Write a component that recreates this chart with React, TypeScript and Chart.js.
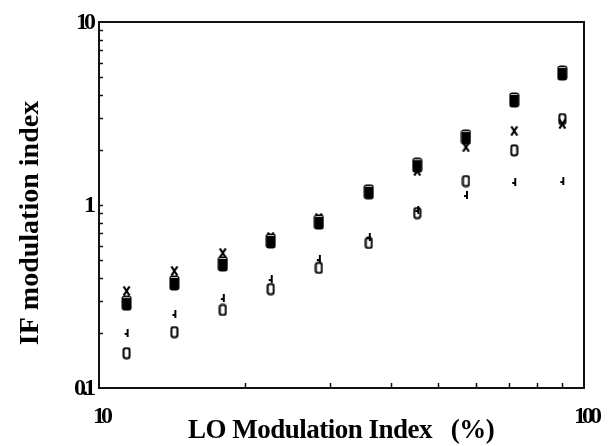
import React, { useEffect, useRef } from "react";
import { Chart, registerables } from "chart.js";

Chart.register(...registerables);

// LO modulation index (%)
const loIndex = [11.4, 14.3, 18.0, 22.6, 28.4, 36.0, 45.3, 57.1, 71.8, 90.2];
// IF modulation index, four measured series
const seriesFilled = [0.291, 0.375, 0.476, 0.636, 0.807, 1.18, 1.65, 2.35, 3.75, 5.26];
const seriesCross = [0.339, 0.436, 0.547, 0.668, 0.849, 1.21, 1.535, 2.07, 2.54, 2.77];
const seriesOpen = [0.155, 0.202, 0.267, 0.347, 0.453, 0.62, 0.904, 1.352, 1.99, 2.95];
const seriesTick = [0.2, 0.254, 0.31, 0.394, 0.507, 0.668, 0.939, 1.134, 1.336, 1.352];

const yTickLabels = [
  { v: 10, t: "10" },
  { v: 1, t: "1" },
  { v: 0.1, t: "0.1" },
];
const xTickLabels = [
  { v: 10, t: "10" },
  { v: 100, t: "100" },
];
const xMinor = [20, 30, 40, 50, 60, 70, 80, 90];
const yMinor = [0.2, 0.3, 0.4, 0.5, 0.6, 0.7, 0.8, 0.9, 1, 2, 3, 4, 5, 6, 7, 8, 9];

const xTitle = "LO Modulation Index   (%)";
const yTitle = "IF modulation index";

function makeCanvas(w: number, h: number, draw: (c: CanvasRenderingContext2D) => void) {
  const cv = document.createElement("canvas");
  cv.width = w;
  cv.height = h;
  const c = cv.getContext("2d")!;
  draw(c);
  return cv;
}

function roundRect(c: CanvasRenderingContext2D, x: number, y: number, w: number, h: number, r: number) {
  c.beginPath();
  c.moveTo(x + r, y);
  c.lineTo(x + w - r, y);
  c.quadraticCurveTo(x + w, y, x + w, y + r);
  c.lineTo(x + w, y + h - r);
  c.quadraticCurveTo(x + w, y + h, x + w - r, y + h);
  c.lineTo(x + r, y + h);
  c.quadraticCurveTo(x, y + h, x, y + h - r);
  c.lineTo(x, y + r);
  c.quadraticCurveTo(x, y, x + r, y);
  c.closePath();
}

const filledMarker = makeCanvas(11, 16, (c) => {
  c.fillStyle = "#000";
  roundRect(c, 0.5, 0.5, 10, 15, 3);
  c.fill();
  c.fillStyle = "rgba(255,255,255,0.75)";
  c.fillRect(2, 2, 7, 1);
});

const openMarker = makeCanvas(9, 13, (c) => {
  c.strokeStyle = "#000";
  c.lineWidth = 2;
  roundRect(c, 1.5, 1.5, 6, 10, 2);
  c.stroke();
});

const crossMarker = makeCanvas(9, 10, (c) => {
  c.strokeStyle = "#000";
  c.lineWidth = 2.2;
  c.beginPath();
  c.moveTo(1.5, 0.5);
  c.lineTo(7.5, 9.5);
  c.moveTo(7.5, 0.5);
  c.lineTo(1.5, 9.5);
  c.stroke();
});

const tickMarker = makeCanvas(6, 8, (c) => {
  c.fillStyle = "#000";
  c.fillRect(3, 0, 2, 8);
  c.fillRect(1, 4, 2, 2);
});

const framePlugin = {
  id: "frame",
  beforeDatasetsDraw(chart: any) {
    const ctx = chart.ctx as CanvasRenderingContext2D;
    const { left, right, top, bottom } = chart.chartArea;
    const xs = chart.scales.x;
    const ys = chart.scales.y;
    ctx.save();
    ctx.strokeStyle = "#111";
    ctx.lineWidth = 2;
    ctx.beginPath();
    ctx.rect(left, top, right - left, bottom - top);
    ctx.stroke();
    ctx.lineWidth = 1.5;
    ctx.beginPath();
    xMinor.forEach((v) => {
      const px = Math.round(xs.getPixelForValue(v)) + 0.5;
      ctx.moveTo(px, bottom);
      ctx.lineTo(px, bottom - 5);
    });
    yMinor.forEach((v) => {
      const py = Math.round(ys.getPixelForValue(v)) + 0.5;
      ctx.moveTo(left, py);
      ctx.lineTo(left + 4, py);
    });
    ctx.stroke();
    ctx.restore();
  },
  afterDraw(chart: any) {
    const ctx = chart.ctx as any;
    const { left, bottom } = chart.chartArea;
    const xs = chart.scales.x;
    const ys = chart.scales.y;
    ctx.save();
    ctx.fillStyle = "#000";
    ctx.font = "bold 24px 'Liberation Serif', 'DejaVu Serif', serif";
    ctx.letterSpacing = "-4px";
    ctx.textBaseline = "middle";
    ctx.textAlign = "right";
    yTickLabels.forEach(({ v, t }) => {
      ctx.fillText(t, left - 7, ys.getPixelForValue(v) + 1);
    });
    ctx.textAlign = "center";
    xTickLabels.forEach(({ v, t }) => {
      ctx.fillText(t, xs.getPixelForValue(v) + 2, bottom + 29);
    });
    ctx.font = "bold 27px 'Liberation Serif', 'DejaVu Serif', serif";
    ctx.letterSpacing = "-0.5px";
    ctx.textAlign = "left";
    ctx.textBaseline = "alphabetic";
    ctx.fillText(xTitle, 188, bottom + 50);
    ctx.font = "bold 28px 'Liberation Serif', 'DejaVu Serif', serif";
    ctx.letterSpacing = "0px";
    ctx.translate(38, (chart.chartArea.top + bottom) / 2 + 18);
    ctx.rotate(-Math.PI / 2);
    ctx.textAlign = "center";
    ctx.fillText(yTitle, 0, 0);
    ctx.restore();
  },
};

export default function App() {
  const ref = useRef<HTMLCanvasElement | null>(null);
  useEffect(() => {
    if (!ref.current) return;
    const mk = (vals: number[]) => loIndex.map((x, i) => ({ x, y: vals[i] }));
    const chart = new Chart(ref.current, {
      type: "scatter",
      data: {
        datasets: [
          { label: "filled", data: mk(seriesFilled), pointStyle: filledMarker as any, pointRadius: 8 },
          { label: "cross", data: mk(seriesCross), pointStyle: crossMarker as any, pointRadius: 5 },
          { label: "open", data: mk(seriesOpen), pointStyle: openMarker as any, pointRadius: 6 },
          { label: "tick", data: mk(seriesTick), pointStyle: tickMarker as any, pointRadius: 4 },
        ],
      },
      options: {
        animation: false,
        responsive: false,
        events: [],
        layout: { padding: { left: 99, top: 22, right: 29, bottom: 58 } },
        plugins: { legend: { display: false }, tooltip: { enabled: false } },
        scales: {
          x: { type: "logarithmic", min: 10, max: 100, display: false },
          y: { type: "logarithmic", min: 0.1, max: 10, display: false },
        },
      },
      plugins: [framePlugin],
    });
    return () => chart.destroy();
  }, []);
  return (
    <div style={{ position: "fixed", left: 0, top: 0, width: 613, height: 446, background: "#fff" }}>
      <canvas ref={ref} width={613} height={446} />
    </div>
  );
}
